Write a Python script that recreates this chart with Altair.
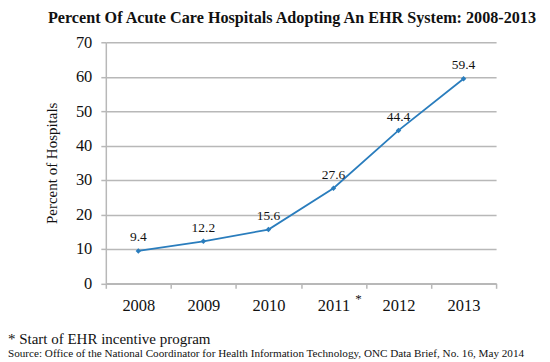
import altair as alt
import pandas as pd

years = ["2008", "2009", "2010", "2011", "2012", "2013"]
pct = [9.4, 12.2, 15.6, 27.6, 44.4, 59.4]
labels = ["9.4", "12.2", "15.6", "27.6", "44.4", "59.4"]
y_ticks = [0, 10, 20, 30, 40, 50, 60, 70]

title_text = "Percent Of Acute Care Hospitals Adopting An EHR System: 2008-2013"
y_title = "Percent of Hospitals"
star_year = ["2011"]
note1 = "* Start of EHR incentive program"
note2 = "Source: Office of the National Coordinator for Health Information Technology, ONC Data Brief, No. 16, May 2014"

df = pd.DataFrame({"year": years, "pct": pct, "label": labels})
star_df = pd.DataFrame({"year": star_year, "pct": [0], "t": ["*"]})
notes_df = pd.DataFrame({"t": [note1]})
src_df = pd.DataFrame({"t": [note2]})

SERIF = "Liberation Serif"
GRAY = "#b8b8b8"
BLUE = "#2a7dbd"
INK = "#111111"

x_enc = alt.X(
    "year:N",
    scale=alt.Scale(type="band", domain=years, paddingInner=0, paddingOuter=0),
    axis=alt.Axis(
        title=None, labelAngle=0, labelFont=SERIF, labelFontSize=16.5,
        labelColor=INK, labelPadding=9, tickBand="extent",
        tickSize=5, tickColor=GRAY, tickWidth=1.5,
        domainColor=GRAY, domainWidth=1.5, grid=False,
    ),
)

y_enc = alt.Y(
    "pct:Q",
    scale=alt.Scale(domain=[0, 70], nice=False),
    axis=alt.Axis(
        values=y_ticks, title=y_title, titleFont=SERIF, titleFontSize=15,
        titleFontWeight="normal", titleColor=INK, titlePadding=16,
        labelFont=SERIF, labelFontSize=16.5, labelColor=INK, labelPadding=9,
        tickSize=5, tickColor=GRAY, tickWidth=1.5,
        domainColor=GRAY, domainWidth=1.5,
        grid=True, gridColor=GRAY, gridWidth=1.5,
    ),
)

star = alt.Chart(star_df).mark_text(
    font=SERIF, fontSize=13, color=INK, dx=25, dy=16, baseline="middle"
).encode(x=x_enc, y=y_enc, text="t:N")

line = alt.Chart(df).mark_line(color=BLUE, strokeWidth=1.8).encode(x=x_enc, y=y_enc)
pts = alt.Chart(df).mark_point(
    color=BLUE, filled=True, shape="diamond", size=30, opacity=1
).encode(x=x_enc, y=y_enc)
txt = alt.Chart(df).mark_text(
    font=SERIF, fontSize=13.5, color=INK, dy=-13.5, baseline="middle"
).encode(x=x_enc, y=y_enc, text="label:N")

note_a = alt.Chart(notes_df).mark_text(
    font=SERIF, fontSize=15, color=INK, align="left", baseline="alphabetic"
).encode(x=alt.value(-98), y=alt.value(302), text="t:N")
note_b = alt.Chart(src_df).mark_text(
    font=SERIF, fontSize=11.2, color=INK, align="left", baseline="alphabetic"
).encode(x=alt.value(-98), y=alt.value(315), text="t:N")

chart = (
    alt.layer(line, pts, txt, star, note_a, note_b)
    .properties(
        width=391,
        height=241.5,
        autosize=alt.AutoSizeParams(type="none"),
        padding={"left": 98, "top": 34, "right": 46, "bottom": 77},
        title=alt.Title(
            title_text, font=SERIF, fontSize=16.2, fontWeight="bold",
            color=INK, anchor="middle", dx=-9, offset=8,
        ),
    )
    .configure_view(stroke=None)
    .configure_axis(labelFont=SERIF, titleFont=SERIF)
    .configure_title(font=SERIF)
)

chart.save("out.html", embed_options={"renderer": "svg", "actions": False})
